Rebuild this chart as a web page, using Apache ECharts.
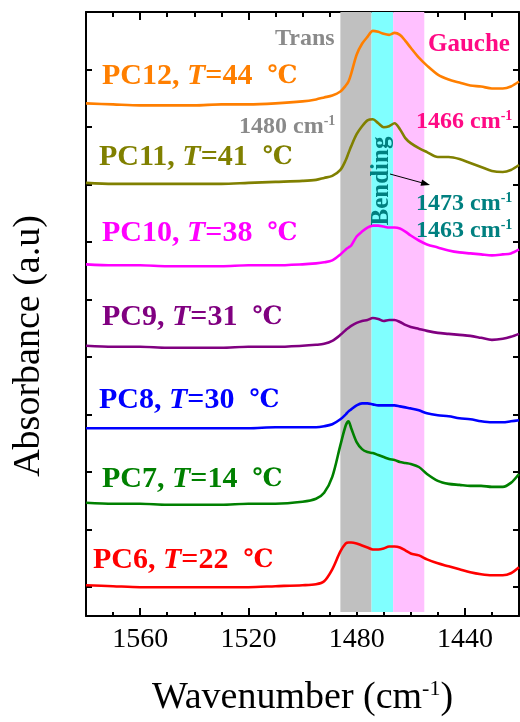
<!DOCTYPE html>
<html>
<head>
<meta charset="utf-8">
<script src="https://cdn.jsdelivr.net/npm/echarts@6/dist/echarts.min.js"></script>
<style>
html, body { margin: 0; padding: 0; background: #fff; }
#main { width: 520px; height: 722px; }
</style>
</head>
<body>
<div id="main"></div>
<script>
// wavenumber (cm-1) sample points shared by every spectrum
const wavenumbers = [1580, 1570, 1560, 1550, 1540, 1530, 1520, 1510, 1500, 1495, 1492, 1489, 1486, 1484, 1483, 1482, 1480, 1478, 1476, 1474, 1472, 1470, 1468, 1466, 1464, 1462, 1460, 1457, 1454, 1450, 1446, 1442, 1438, 1434, 1430, 1426, 1423, 1420]

// absorbance (a.u., stacked with offsets)
const pc12 = [5.16, 5.15, 5.14, 5.14, 5.14, 5.15, 5.15, 5.16, 5.18, 5.20, 5.22, 5.24, 5.28, 5.34, 5.38, 5.46, 5.65, 5.76, 5.83, 5.89, 5.88, 5.86, 5.85, 5.87, 5.85, 5.79, 5.72, 5.62, 5.54, 5.45, 5.40, 5.37, 5.34, 5.33, 5.31, 5.31, 5.33, 5.38]
const pc11 = [4.36, 4.35, 4.35, 4.35, 4.35, 4.35, 4.36, 4.37, 4.38, 4.39, 4.41, 4.43, 4.49, 4.59, 4.66, 4.73, 4.85, 4.93, 4.99, 5.00, 4.96, 4.92, 4.93, 4.96, 4.90, 4.81, 4.76, 4.71, 4.67, 4.62, 4.62, 4.60, 4.56, 4.52, 4.48, 4.47, 4.49, 4.54]
const pc10 = [3.54, 3.53, 3.53, 3.52, 3.52, 3.52, 3.53, 3.53, 3.54, 3.55, 3.56, 3.58, 3.64, 3.69, 3.71, 3.73, 3.82, 3.87, 3.91, 3.93, 3.93, 3.92, 3.91, 3.91, 3.90, 3.87, 3.83, 3.78, 3.74, 3.71, 3.68, 3.66, 3.65, 3.64, 3.63, 3.64, 3.65, 3.69]
const pc9 = [2.72, 2.71, 2.71, 2.70, 2.70, 2.70, 2.71, 2.71, 2.72, 2.73, 2.74, 2.77, 2.83, 2.88, 2.90, 2.92, 2.95, 2.97, 2.98, 3.00, 2.99, 2.97, 2.98, 2.98, 2.96, 2.93, 2.91, 2.89, 2.87, 2.85, 2.84, 2.83, 2.82, 2.80, 2.78, 2.79, 2.81, 2.84]
const pc8 = [1.89, 1.89, 1.89, 1.89, 1.89, 1.89, 1.89, 1.90, 1.90, 1.90, 1.91, 1.93, 1.98, 2.03, 2.06, 2.08, 2.12, 2.14, 2.14, 2.13, 2.12, 2.12, 2.12, 2.12, 2.11, 2.10, 2.09, 2.07, 2.04, 2.02, 2.01, 1.99, 1.98, 1.96, 1.95, 1.95, 1.96, 1.97]
const pc7 = [1.14, 1.13, 1.13, 1.12, 1.12, 1.12, 1.13, 1.13, 1.15, 1.18, 1.24, 1.40, 1.72, 1.92, 1.96, 1.89, 1.75, 1.68, 1.65, 1.64, 1.62, 1.60, 1.58, 1.57, 1.55, 1.54, 1.53, 1.50, 1.43, 1.36, 1.33, 1.32, 1.31, 1.31, 1.30, 1.30, 1.34, 1.43]
const pc6 = [0.31, 0.30, 0.29, 0.29, 0.29, 0.29, 0.29, 0.30, 0.31, 0.32, 0.35, 0.47, 0.65, 0.73, 0.74, 0.74, 0.73, 0.71, 0.69, 0.67, 0.67, 0.68, 0.70, 0.70, 0.69, 0.66, 0.63, 0.61, 0.57, 0.53, 0.50, 0.47, 0.44, 0.42, 0.41, 0.41, 0.43, 0.49]

const sampleNames = ['PC12', 'PC11', 'PC10', 'PC9', 'PC8', 'PC7', 'PC6']
const temperatures = [44, 41, 38, 31, 30, 14, 22]
const spectra = [pc12, pc11, pc10, pc9, pc8, pc7, pc6]

// shaded bands: trans / bending / gauche (cm-1)
const bandEdges = [[1486, 1474.5], [1474.5, 1466.5], [1466.5, 1455]]
const majorTicks = [1440, 1480, 1520, 1560]

const colors = ['#ff7f00', '#808000', '#ff00ff', '#800080', '#0000ff', '#008000', '#ff0000']
const bandColors = ['#c0c0c0', '#80ffff', '#ffc0ff']
const labelPos = [[102, 76], [99, 157], [102, 233], [102, 317], [99, 400], [102, 479], [93, 560]]

const SERIF = '"Liberation Serif", "Times New Roman", "Noto Sans CJK SC", serif'
const DEGREE_FONT = '"DejaVu Serif", "Liberation Serif", "Noto Sans CJK SC", serif'
const PINK = '#ff0a85'
const TEAL = '#008080'
const GRAY = '#8a8a8a'

const myChart = echarts.init(document.getElementById('main'), null, { renderer: 'canvas' })

const axisBlack = { color: '#000', width: 2 }

function xAxisBase(position) {
  return {
    type: 'value',
    position: position,
    min: 1420,
    max: 1580,
    inverse: true,
    splitLine: { show: false },
    axisLine: { show: false },
    axisLabel: { show: false },
    axisTick: { show: false }
  }
}

const xAxes = [
  // bottom minor ticks + frame line
  Object.assign(xAxisBase('bottom'), {
    interval: 10,
    axisLine: { show: true, onZero: false, lineStyle: axisBlack },
    axisTick: { show: true, inside: true, length: 4, lineStyle: axisBlack }
  }),
  // bottom major ticks + labels + name
  Object.assign(xAxisBase('bottom'), {
    axisTick: { show: true, inside: true, length: 8, customValues: majorTicks, lineStyle: axisBlack },
    axisLabel: {
      show: true,
      customValues: majorTicks,
      formatter: v => String(v),
      margin: 10,
      color: '#000',
      fontFamily: SERIF,
      fontSize: 28
    },
    name: '{a|Wavenumber (cm}{s|-1}{a|)}',
    nameLocation: 'middle',
    nameGap: 62,
    nameTextStyle: {
      rich: {
        a: { fontFamily: SERIF, fontSize: 38, color: '#000', lineHeight: 40 },
        s: { fontFamily: SERIF, fontSize: 22, color: '#000', verticalAlign: 'top', lineHeight: 40 }
      }
    }
  }),
  // top minor ticks + frame line
  Object.assign(xAxisBase('top'), {
    interval: 10,
    axisLine: { show: true, onZero: false, lineStyle: axisBlack },
    axisTick: { show: true, inside: true, length: 5, lineStyle: axisBlack }
  }),
  // top major ticks
  Object.assign(xAxisBase('top'), {
    axisTick: { show: true, inside: true, length: 8, customValues: majorTicks, lineStyle: axisBlack }
  })
]

function tickYAxis(position) {
  return {
    type: 'value',
    position: position,
    inverse: true,
    min: 0,
    max: 10.5,
    interval: 1,
    axisLine: { show: true, onZero: false, lineStyle: axisBlack },
    axisTick: { show: true, inside: true, length: 6, lineStyle: axisBlack },
    axisLabel: { show: false },
    splitLine: { show: false }
  }
}

const yAxes = [
  { type: 'value', min: 0, max: 6.08, show: false },
  tickYAxis('left'),
  tickYAxis('right')
]

const series = [
  {
    name: 'bands',
    type: 'line',
    data: [],
    z: 1,
    silent: true,
    markArea: {
      silent: true,
      label: { show: false },
      data: bandEdges.map((e, i) => [
        { xAxis: e[0], yAxis: 0.04, itemStyle: { color: bandColors[i], opacity: 1 } },
        { xAxis: e[1], yAxis: 6.08 }
      ])
    }
  }
].concat(spectra.map((vals, i) => ({
  name: sampleNames[i],
  type: 'line',
  z: 3,
  smooth: 0.3,
  showSymbol: false,
  symbol: 'none',
  lineStyle: { color: colors[i], width: 2.6 },
  itemStyle: { color: colors[i] },
  data: wavenumbers.map((w, k) => [w, vals[k]])
})))

function richText(opts) {
  return {
    type: 'text',
    x: opts.x,
    y: opts.y,
    rotation: opts.rotation || 0,
    z: 10,
    style: {
      text: opts.text,
      align: opts.align || 'left',
      verticalAlign: 'middle',
      rich: opts.rich,
      fill: opts.fill,
      fontFamily: SERIF,
      fontSize: opts.fontSize || 24,
      fontWeight: opts.fontWeight || 'bold'
    }
  }
}

function supRich(color, size) {
  return {
    n: { fontFamily: SERIF, fontSize: size, fontWeight: 'bold', fill: color, color: color, lineHeight: size + 2 },
    s: { fontFamily: SERIF, fontSize: 14, fontWeight: 'bold', fill: color, color: color, verticalAlign: 'top', lineHeight: size + 2 }
  }
}

const graphics = []

// sample labels
sampleNames.forEach((name, i) => {
  const c = colors[i]
  graphics.push(richText({
    x: labelPos[i][0],
    y: labelPos[i][1],
    text: '{b|' + name + ', }{i|T}{b|=' + temperatures[i] + '  }{d|℃}',
    rich: {
      b: { fontFamily: SERIF, fontSize: 30, fontWeight: 'bold', fill: c, color: c },
      i: { fontFamily: SERIF, fontSize: 30, fontWeight: 'bold', fontStyle: 'italic', fill: c, color: c },
      d: { fontFamily: DEGREE_FONT, fontSize: 25, fontWeight: 'bold', fill: c, color: c }
    },
    fill: c,
    fontSize: 30
  }))
})

// band annotations
graphics.push(richText({ x: 275, y: 39, text: 'Trans', fill: GRAY, fontSize: 24 }))
graphics.push(richText({ x: 428, y: 45, text: 'Gauche', fill: PINK, fontSize: 25 }))
graphics.push(richText({ x: 239, y: 127, text: '{n|1480 cm}{s|-1}', rich: supRich(GRAY, 24), fill: GRAY }))
graphics.push(richText({ x: 416, y: 122, text: '{n|1466 cm}{s|-1}', rich: supRich(PINK, 24), fill: PINK }))
graphics.push(richText({ x: 416, y: 204, text: '{n|1473 cm}{s|-1}', rich: supRich(TEAL, 24), fill: TEAL }))
graphics.push(richText({ x: 416, y: 231, text: '{n|1463 cm}{s|-1}', rich: supRich(TEAL, 24), fill: TEAL }))
graphics.push(richText({ x: 382, y: 181, text: 'Bending', fill: TEAL, fontSize: 25, align: 'center', rotation: Math.PI / 2 }))

// y axis title
graphics.push({
  type: 'text',
  x: 29,
  y: 346,
  rotation: Math.PI / 2,
  style: {
    text: 'Absorbance (a.u)',
    align: 'center',
    verticalAlign: 'middle',
    fill: '#000',
    fontFamily: SERIF,
    fontSize: 38
  }
})

// arrow
const ax1 = 390, ay1 = 174, ax2 = 430, ay2 = 185
const len = Math.hypot(ax2 - ax1, ay2 - ay1)
const ux = (ax2 - ax1) / len, uy = (ay2 - ay1) / len
graphics.push({
  type: 'line',
  z: 10,
  shape: { x1: ax1, y1: ay1, x2: ax2 - ux * 6, y2: ay2 - uy * 6 },
  style: { stroke: '#000', lineWidth: 1 }
})
graphics.push({
  type: 'polygon',
  z: 10,
  shape: {
    points: [
      [ax2, ay2],
      [ax2 - ux * 9 - uy * 3.2, ay2 - uy * 9 + ux * 3.2],
      [ax2 - ux * 9 + uy * 3.2, ay2 - uy * 9 - ux * 3.2]
    ]
  },
  style: { fill: '#000' }
})

const option = {
  animation: false,
  backgroundColor: '#fff',
  grid: { left: 86, right: 1, top: 12, bottom: 102, containLabel: false },
  xAxis: xAxes,
  yAxis: yAxes,
  series: series,
  graphic: graphics
}

myChart.setOption(option)
</script>
</body>
</html>
